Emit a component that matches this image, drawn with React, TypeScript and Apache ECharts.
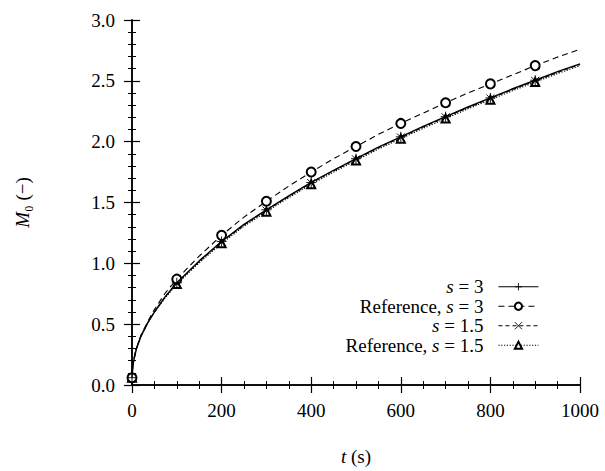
import React, { useEffect, useRef } from "react";
import * as echarts from "echarts";

const times = [0, 2, 5, 10, 20, 35, 50, 75, 100, 150, 200, 250, 300, 350, 400, 450, 500, 550, 600, 650, 700, 750, 800, 850, 900, 950, 1000];
const s3 = [0.06, 0.16, 0.22, 0.3, 0.4, 0.51, 0.6, 0.73, 0.84, 1.02, 1.18, 1.32, 1.44, 1.555, 1.665, 1.765, 1.86, 1.955, 2.04, 2.125, 2.205, 2.285, 2.36, 2.435, 2.505, 2.575, 2.64];
const refS3 = [0.06, 0.16, 0.23, 0.3, 0.41, 0.52, 0.62, 0.76, 0.87, 1.06, 1.23, 1.38, 1.51, 1.635, 1.75, 1.86, 1.96, 2.06, 2.15, 2.235, 2.32, 2.4, 2.475, 2.55, 2.625, 2.695, 2.76];
const s15 = [0.06, 0.16, 0.22, 0.3, 0.4, 0.51, 0.6, 0.73, 0.835, 1.015, 1.175, 1.315, 1.435, 1.55, 1.66, 1.76, 1.855, 1.95, 2.035, 2.12, 2.2, 2.28, 2.355, 2.43, 2.5, 2.57, 2.635];
const refS15 = [0.06, 0.17, 0.23, 0.31, 0.41, 0.51, 0.6, 0.72, 0.83, 1.005, 1.165, 1.305, 1.425, 1.54, 1.65, 1.75, 1.845, 1.94, 2.025, 2.11, 2.19, 2.27, 2.345, 2.42, 2.49, 2.56, 2.625];
const markerTimes = [0, 100, 200, 300, 400, 500, 600, 700, 800, 900];
const seriesNames = ["s = 3", "Reference, s = 3", "s = 1.5", "Reference, s = 1.5"];
const xTicks = [0, 200, 400, 600, 800, 1000];
const yTicks = [0.0, 0.5, 1.0, 1.5, 2.0, 2.5, 3.0];

const FONT = "Liberation Serif";

function build(values: number[]) {
  return times.map((t, i) =>
    markerTimes.includes(t) ? { value: [t, values[i]] } : { value: [t, values[i]], symbol: "none" }
  );
}

export default function App() {
  const ref = useRef<HTMLDivElement>(null);
  useEffect(() => {
    if (!ref.current) return;
    const chart = echarts.init(ref.current, undefined, { renderer: "svg" });
    const axisLine = { show: true, lineStyle: { color: "#000", width: 1.5 } };
    const axisTick = { show: true, inside: true, length: 8, lineStyle: { color: "#000", width: 1.2 } };
    const minorX = { show: true, splitNumber: 4, length: 4, lineStyle: { color: "#000", width: 1 } };
    const minorY = { show: true, splitNumber: 5, length: 4, lineStyle: { color: "#000", width: 1 } };
    const labelStyle = { color: "#000", fontFamily: FONT, fontSize: 19 };
    const italicRich = { i: { fontStyle: "italic", fontFamily: FONT, fontSize: 19, color: "#000" } };
    const styles = [
      { type: "solid", symbol: "path://M5,0L5,10M0,5L10,5", size: 10, width: 1.4 },
      { type: [6, 4], symbol: "emptyCircle", size: 9, width: 1.1 },
      { type: [4, 3], symbol: "path://M0,0L10,10M10,0L0,10", size: 8, width: 1.1 },
      { type: [1.2, 1.6], symbol: "emptyTriangle", size: 8, width: 1.2 },
    ];
    const dataSets = [s3, refS3, s15, refS15];
    chart.setOption({
      animation: false,
      grid: { left: 132, right: 25, top: 20, bottom: 82, containLabel: false },
      legend: {
        orient: "vertical",
        right: 66,
        top: 277,
        padding: 0,
        itemGap: 0,
        align: "right",
        itemWidth: 40,
        itemHeight: 9,
        data: seriesNames,
        lineStyle: { width: 1.1 },
        itemStyle: { borderWidth: 0.9 },
        formatter: (name: string) => name.replace("s =", "{i|s} ="),
        textStyle: {
          color: "#000",
          fontFamily: FONT,
          fontSize: 19,
          lineHeight: 19.5,
          padding: [0, 10, 0, 0],
          rich: italicRich,
        },
      },
      xAxis: [
        {
          type: "value",
          min: 0,
          max: 1000,
          interval: 200,
          position: "bottom",
          minorTick: minorX,
          axisLine,
          axisTick,
          splitLine: { show: false },
          axisLabel: { ...labelStyle, margin: 16, formatter: (v: number) => (xTicks.includes(v) ? String(v) : "") },
          name: "{i|t} (s)",
          nameLocation: "middle",
          nameGap: 62,
          nameTextStyle: { ...labelStyle, rich: italicRich },
        },
        {
          type: "value",
          min: 0,
          max: 1000,
          interval: 200,
          position: "top",
          minorTick: minorX,
          axisLine,
          axisTick,
          splitLine: { show: false },
          axisLabel: { show: false },
        },
      ],
      yAxis: [
        {
          type: "value",
          min: 0,
          max: 3,
          interval: 0.5,
          position: "left",
          minorTick: minorY,
          axisLine,
          axisTick,
          splitLine: { show: false },
          axisLabel: {
            ...labelStyle,
            margin: 17,
            formatter: (v: number) => (yTicks.some((y) => Math.abs(y - v) < 1e-9) ? v.toFixed(1) : ""),
          },
          name: "{i|M}₀ (−)",
          nameLocation: "middle",
          nameGap: 100,
          nameRotate: 90,
          nameTextStyle: { ...labelStyle, rich: italicRich },
        },
        {
          type: "value",
          min: 0,
          max: 3,
          interval: 0.5,
          position: "right",
          minorTick: minorY,
          axisLine,
          axisTick,
          splitLine: { show: false },
          axisLabel: { show: false },
        },
      ],
      series: seriesNames.map((name, k) => ({
        name,
        type: "line",
        xAxisIndex: 0,
        yAxisIndex: 0,
        data: build(dataSets[k]),
        smooth: false,
        symbol: styles[k].symbol,
        symbolSize: styles[k].size,
        showAllSymbol: true,
        lineStyle: { color: "#000", width: styles[k].width, type: styles[k].type },
        itemStyle: { color: "#000", borderColor: "#000", borderWidth: 0.9 },
        emphasis: { disabled: true },
        z: 4 - k,
      })),
    });
    return () => chart.dispose();
  }, []);
  return <div ref={ref} style={{ position: "absolute", left: 0, top: 0, width: 605, height: 471 }} />;
}
